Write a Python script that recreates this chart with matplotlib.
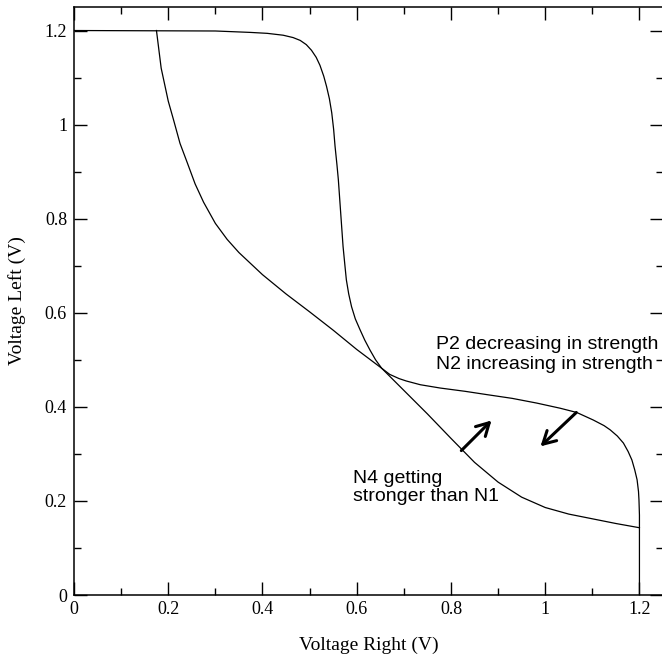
import matplotlib
matplotlib.use("Agg")
import matplotlib.pyplot as plt
from matplotlib.ticker import MultipleLocator

# (Voltage Right, Voltage Left)
curve_a_x = [0.0, 0.3, 0.374, 0.41, 0.444, 0.465, 0.480, 0.493, 0.504, 0.514,
             0.522, 0.530, 0.536, 0.542, 0.547, 0.551, 0.554, 0.558, 0.561, 0.566,
             0.571, 0.575, 0.578, 0.583, 0.589, 0.597, 0.607, 0.617, 0.628, 0.640,
             0.653, 0.670, 0.690, 0.705, 0.735, 0.777, 0.830, 0.876, 0.930, 0.982,
             1.032, 1.067, 1.102, 1.125, 1.138, 1.153, 1.166, 1.176, 1.184, 1.190,
             1.195, 1.198, 1.199, 1.200, 1.200, 1.200]
curve_a_y = [1.2, 1.199, 1.196, 1.194, 1.190, 1.185, 1.179, 1.170, 1.158, 1.143,
             1.126, 1.103, 1.081, 1.055, 1.025, 0.990, 0.954, 0.915, 0.883, 0.812,
             0.741, 0.700, 0.670, 0.640, 0.613, 0.587, 0.564, 0.542, 0.521, 0.500,
             0.482, 0.469, 0.460, 0.455, 0.447, 0.440, 0.433, 0.426, 0.418, 0.408,
             0.397, 0.388, 0.372, 0.360, 0.351, 0.338, 0.323, 0.305, 0.287, 0.266,
             0.245, 0.220, 0.202, 0.170, 0.145, 0.0]

curve_b_x = [0.175, 0.185, 0.200, 0.211, 0.225, 0.240, 0.257, 0.275, 0.300, 0.325,
             0.350, 0.400, 0.450, 0.500, 0.550, 0.600, 0.653, 0.700, 0.750, 0.800,
             0.850, 0.900, 0.950, 1.000, 1.050, 1.100, 1.150, 1.200]
curve_b_y = [1.2, 1.12, 1.05, 1.011, 0.960, 0.920, 0.874, 0.835, 0.790, 0.756,
             0.728, 0.681, 0.640, 0.602, 0.563, 0.522, 0.482, 0.435, 0.385, 0.333,
             0.282, 0.240, 0.208, 0.186, 0.172, 0.162, 0.152, 0.143]

# arrows: (tail, head)
arrows = [((0.822, 0.307), (0.886, 0.371)),
          ((1.066, 0.388), (0.990, 0.316))]

SERIF = "Liberation Serif"
SANS = "Liberation Sans"

fig = plt.figure(figsize=(6.62, 6.61), dpi=100)
ax = fig.add_axes([74 / 662, 66 / 661, 589 / 662, 588 / 661])

ax.plot(curve_a_x, curve_a_y, color="black", lw=0.9)
ax.plot(curve_b_x, curve_b_y, color="black", lw=0.9)

for tail, head in arrows:
    ax.annotate("", xy=head, xytext=tail,
                arrowprops=dict(arrowstyle="->,head_length=0.9,head_width=0.5",
                                lw=2.2, color="black", shrinkA=0, shrinkB=0))

ax.text(0.769, 0.5227, "P2 decreasing in strength", fontsize=14, family=SANS, va="baseline")
ax.text(0.769, 0.480, "N2 increasing in strength", fontsize=14, family=SANS, va="baseline")
ax.text(0.5917, 0.239, "N4 getting", fontsize=14, family=SANS, va="baseline")
ax.text(0.5917, 0.2006, "stronger than N1", fontsize=14, family=SANS, va="baseline")

ax.set_xlim(0, 1.25)
ax.set_ylim(0, 1.25)
ax.xaxis.set_minor_locator(MultipleLocator(0.1))
ax.yaxis.set_minor_locator(MultipleLocator(0.1))
ax.set_xticks([0, 0.2, 0.4, 0.6, 0.8, 1.0, 1.2])
ax.set_xticklabels(["0", "0.2", "0.4", "0.6", "0.8", "1", "1.2"])
ax.set_yticks([0, 0.2, 0.4, 0.6, 0.8, 1.0, 1.2])
ax.set_yticklabels(["0", "0.2", "0.4", "0.6", "0.8", "1", "1.2"])
ax.tick_params(which="both", direction="in", top=True, right=True, width=1.0)
ax.tick_params(which="major", length=9.4)
ax.tick_params(which="minor", length=5.3)
ax.tick_params(axis="x", pad=4)
ax.tick_params(axis="y", pad=5)
for lab in ax.get_xticklabels() + ax.get_yticklabels():
    lab.set_fontfamily(SERIF)
    lab.set_fontsize(13)
for sp in ax.spines.values():
    sp.set_linewidth(1.1)

ax.set_xlabel("Voltage Right (V)", fontsize=14, family=SERIF, labelpad=14)
ax.set_ylabel("Voltage Left (V)", fontsize=14, family=SERIF, labelpad=13)

fig.savefig("out.png", dpi=100)
